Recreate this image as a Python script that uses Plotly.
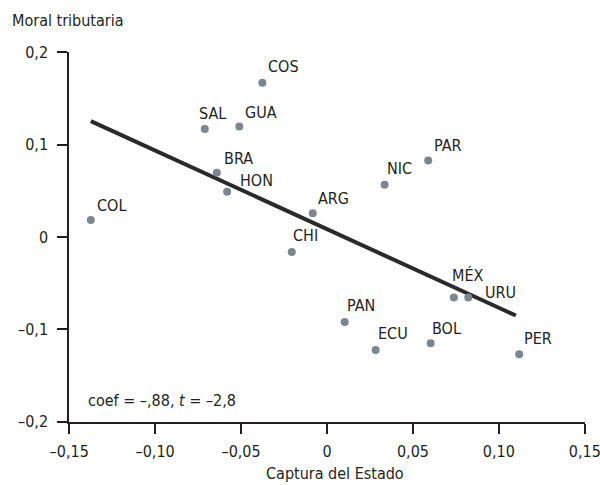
import plotly.graph_objects as go

countries = ["COL", "SAL", "GUA", "COS", "BRA", "HON", "CHI", "ARG", "NIC", "PAR",
             "MÉX", "URU", "PAN", "ECU", "BOL", "PER"]
captura = [-0.1374, -0.0711, -0.0510, -0.0376, -0.0641, -0.0581, -0.0205, -0.0083,
           0.0335, 0.0589, 0.0738, 0.0822, 0.0103, 0.0283, 0.0603, 0.1118]
moral = [0.0184, 0.1168, 0.1197, 0.1670, 0.0696, 0.0490, -0.0162, 0.0256,
         0.0566, 0.0829, -0.0655, -0.0655, -0.0919, -0.1222, -0.1149, -0.1268]

fit_x = [-0.1374, 0.1099]
fit_y = [0.1254, -0.0850]

x_ticks = [-0.15, -0.10, -0.05, 0, 0.05, 0.10, 0.15]
x_ticktext = ["–0,15", "–0,10", "–0,05", "0", "0,05", "0,10", "0,15"]
y_ticks = [-0.2, -0.1, 0, 0.1, 0.2]
y_ticktext = ["–0,2", "–0,1", "0", "0,1", "0,2"]

# label offsets in pixels (dx to text left, dy up to text centre)
label_offsets = {
    "COL": (4, 15), "SAL": (-8, 16), "GUA": (4, 14), "COS": (4, 16),
    "BRA": (5, 14), "HON": (11, 11), "CHI": (-1, 16), "ARG": (3, 15),
    "NIC": (0, 16), "PAR": (4, 15), "MÉX": (-4, 22), "URU": (15, 5),
    "PAN": (0, 16), "ECU": (0, 16), "BOL": (-1, 15), "PER": (3, 16),
}

FONT = "DejaVu Sans Condensed, Liberation Sans Narrow, sans-serif"
TXT = "#231f20"
FS = 16

fig = go.Figure()
fig.add_trace(go.Scatter(x=fit_x, y=fit_y, mode="lines",
                         line=dict(color="#2a2a2a", width=4), hoverinfo="skip"))
fig.add_trace(go.Scatter(x=captura, y=moral, mode="markers",
                         marker=dict(color="#7b8790", size=8), hoverinfo="skip"))

for c, x, y in zip(countries, captura, moral):
    dx, dy = label_offsets[c]
    fig.add_annotation(x=x, y=y, text=c, showarrow=False, xanchor="left", yanchor="middle",
                       xshift=dx, yshift=dy, font=dict(family=FONT, size=FS, color=TXT))

PW, PH = 516, 370
fig.add_annotation(xref="paper", yref="paper", x=(86 - 69) / PW, y=(422 - 400) / PH,
                   text="coef = –,88, <i>t</i> = –2,8", showarrow=False,
                   xanchor="left", yanchor="middle", font=dict(family=FONT, size=FS, color=TXT))
fig.add_annotation(xref="paper", yref="paper", x=(335 - 69) / PW, y=(422 - 474) / PH,
                   text="Captura del Estado", showarrow=False,
                   xanchor="center", yanchor="middle", font=dict(family=FONT, size=FS, color=TXT))
fig.add_annotation(xref="paper", yref="paper", x=(10 - 69) / PW, y=(422 - 21) / PH,
                   text="Moral tributaria", showarrow=False, xanchor="left", yanchor="middle",
                   font=dict(family=FONT, size=FS, color=TXT))

fig.update_layout(
    width=600, height=485,
    margin=dict(l=69, r=15, t=52, b=63, autoexpand=False),
    plot_bgcolor="white", paper_bgcolor="white",
    showlegend=False,
    font=dict(family=FONT, size=FS, color=TXT),
    xaxis=dict(range=[-0.1501, 0.1501], tickvals=x_ticks, ticktext=x_ticktext,
               showgrid=False, zeroline=False, showline=True, linecolor="#231f20", linewidth=1.5,
               ticks="outside", ticklen=10, tickwidth=1.5, tickcolor="#231f20",
               ticklabelstandoff=4, automargin=False, ticklabeloverflow="allow"),
    yaxis=dict(range=[-0.2002, 0.2002], tickvals=y_ticks, ticktext=y_ticktext,
               showgrid=False, zeroline=False, showline=True, linecolor="#231f20", linewidth=1.5,
               ticks="outside", ticklen=10, tickwidth=1.5, tickcolor="#231f20",
               ticklabelstandoff=6, automargin=False, ticklabeloverflow="allow"),
)

fig.write_html("out.html")
